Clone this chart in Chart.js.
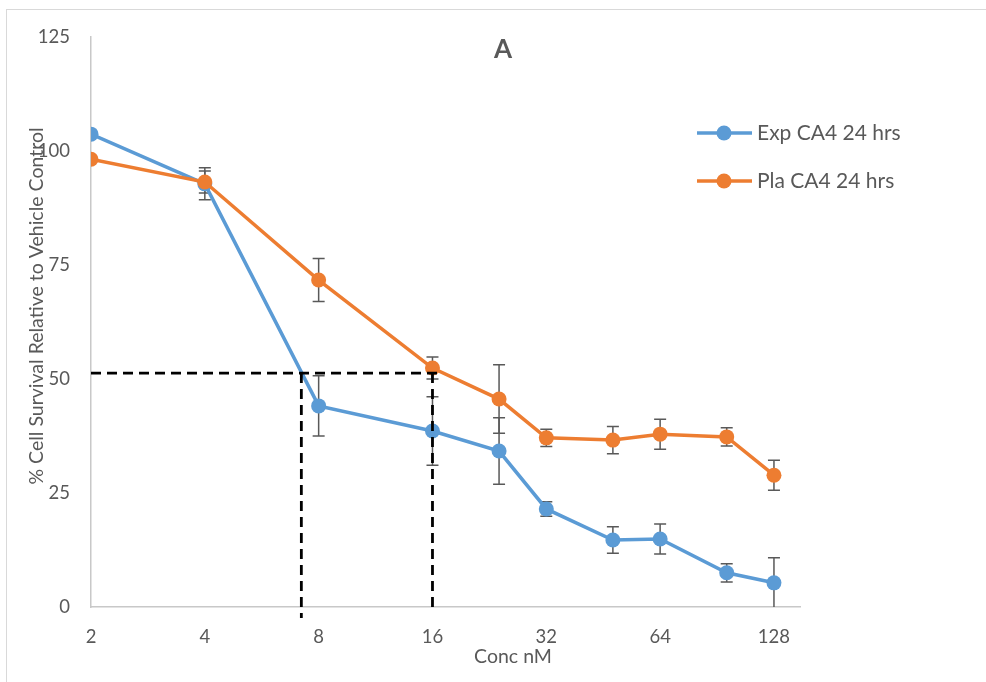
<!DOCTYPE html>
<html>
<head>
<meta charset="utf-8">
<script src="https://cdn.jsdelivr.net/npm/chart.js@4.4.1/dist/chart.umd.min.js"></script>
<style>
    html, body { margin: 0; padding: 0; background: #ffffff; }
    #wrap { position: relative; width: 986px; height: 682px; overflow: hidden; }
    #frame { position: absolute; left: 6px; top: 9px; width: 1000px; height: 700px;
             border-top: 1.5px solid #d9d9d9; border-left: 1.5px solid #d9d9d9; }
    #chart { position: absolute; left: 0; top: 0; }
</style>
</head>
<body>
<div id="wrap">
    <div id="frame"></div>
    <canvas id="chart" width="986" height="682"></canvas>
</div>
<script>
const concentrations = [2, 4, 8, 16, 24, 32, 48, 64, 96, 128];
const expValues = [103.7, 92.8, 44.1, 38.6, 34.2, 21.5, 14.7, 14.9, 7.5, 5.3];
const plaValues = [98.2, 93.2, 71.7, 52.4, 45.6, 37.1, 36.6, 37.9, 37.3, 28.9];
const expErrors = [0, 3.5, 6.6, 7.5, 7.3, 1.6, 2.9, 3.3, 2.0, 5.5];
const plaErrors = [0, 2.4, 4.7, 2.4, 7.5, 1.9, 3.0, 3.3, 2.0, 3.3];
const xTicks = [2, 4, 8, 16, 32, 64, 128];
const seriesNames = ['Exp CA4 24 hrs', 'Pla CA4 24 hrs'];

// 50% survival guide lines
const halfLevel = 51.3;
const halfExpConc = 7.2;
const halfPlaConc = 16;
const guideEndConc = 17;
const guideBottoms = [-2.4, -0.7];

const textColor = '#595959';
const axisColor = '#c8c8c8';
const fontFamily = 'Lato, "Open Sans", sans-serif';

const errorBarPlugin = {
    id: 'errorBars',
    beforeDatasetsDraw(chart) {
        const ctx = chart.ctx;
        const x = chart.scales.x, y = chart.scales.y;
        const area = chart.chartArea;
        ctx.save();
        ctx.beginPath();
        ctx.rect(area.left, area.top, area.right - area.left, area.bottom - area.top);
        ctx.clip();
        ctx.strokeStyle = '#595959';
        ctx.lineWidth = 1.5;
        chart.data.datasets.forEach(ds => {
            if (!ds.errors) return;
            ds.data.forEach((p, i) => {
                const e = ds.errors[i];
                if (!e) return;
                const px = x.getPixelForValue(p.x);
                const top = y.getPixelForValue(p.y + e);
                const bot = y.getPixelForValue(p.y - e);
                ctx.beginPath();
                ctx.moveTo(px, top); ctx.lineTo(px, bot);
                ctx.moveTo(px - 6, top); ctx.lineTo(px + 6, top);
                ctx.moveTo(px - 6, bot); ctx.lineTo(px + 6, bot);
                ctx.stroke();
            });
        });
        ctx.restore();
    }
};

const labelsPlugin = {
    id: 'labels',
    afterDraw(chart) {
        const ctx = chart.ctx;
        ctx.save();
        ctx.fillStyle = textColor;
        ctx.textAlign = 'center';
        ctx.textBaseline = 'middle';

        ctx.font = 'bold 26px ' + fontFamily;
        ctx.fillText('A', 503, 50);

        ctx.font = '19.5px ' + fontFamily;
        ctx.fillText('Conc nM', 513, 657);

        ctx.save();
        ctx.translate(37, 306);
        ctx.rotate(-Math.PI / 2);
        ctx.fillText('% Cell Survival Relative to Vehicle Control', 0, 0);
        ctx.restore();

        // legend
        ctx.textAlign = 'left';
        ctx.font = '21px ' + fontFamily;
        [0, 1].forEach(i => {
            const ds = chart.data.datasets[i];
            const ly = 133 + i * 48;
            ctx.strokeStyle = ds.borderColor;
            ctx.lineWidth = 3.5;
            ctx.beginPath();
            ctx.moveTo(697, ly); ctx.lineTo(752, ly);
            ctx.stroke();
            ctx.fillStyle = ds.backgroundColor;
            ctx.beginPath();
            ctx.arc(724, ly, 7.5, 0, Math.PI * 2);
            ctx.fill();
            ctx.fillStyle = textColor;
            ctx.fillText(seriesNames[i], 757, ly);
        });
        ctx.restore();
    }
};

function guide(points) {
    return {
        data: points,
        borderColor: '#000000',
        borderWidth: 2.8,
        borderDash: [10, 6],
        pointRadius: 0,
        clip: false,
        order: 0
    };
}

new Chart(document.getElementById('chart'), {
    type: 'line',
    data: {
        datasets: [
            {
                label: seriesNames[0],
                data: concentrations.map((c, i) => ({ x: c, y: expValues[i] })),
                errors: expErrors,
                borderColor: '#5B9BD5',
                backgroundColor: '#5B9BD5',
                borderWidth: 3.5,
                pointRadius: 7.5,
                pointHoverRadius: 7.5,
                pointBorderWidth: 0,
                tension: 0,
                order: 2
            },
            {
                label: seriesNames[1],
                data: concentrations.map((c, i) => ({ x: c, y: plaValues[i] })),
                errors: plaErrors,
                borderColor: '#ED7D31',
                backgroundColor: '#ED7D31',
                borderWidth: 3.5,
                pointRadius: 7.5,
                pointHoverRadius: 7.5,
                pointBorderWidth: 0,
                tension: 0,
                order: 1
            },
            guide([{ x: concentrations[0], y: halfLevel }, { x: guideEndConc, y: halfLevel }]),
            guide([{ x: halfExpConc, y: halfLevel }, { x: halfExpConc, y: guideBottoms[0] }]),
            guide([{ x: halfPlaConc, y: halfLevel }, { x: halfPlaConc, y: guideBottoms[1] }])
        ]
    },
    options: {
        responsive: false,
        animation: false,
        layout: {
            padding: { top: 37, right: 186, left: 0, bottom: 0 }
        },
        plugins: {
            legend: { display: false },
            title: { display: false },
            tooltip: { enabled: false }
        },
        scales: {
            x: {
                type: 'logarithmic',
                min: 2,
                max: 150,
                afterBuildTicks: s => { s.ticks = xTicks.map(v => ({ value: v })); },
                afterFit: s => { s.height = 75; },
                grid: { display: false, drawTicks: false },
                border: { color: axisColor, width: 1.5 },
                ticks: {
                    callback: v => String(v),
                    autoSkip: false,
                    maxRotation: 0,
                    padding: 19,
                    color: textColor,
                    font: { family: fontFamily, size: 18.5 }
                }
            },
            y: {
                min: 0,
                max: 125,
                afterFit: s => { s.width = 91; },
                grid: { display: false, drawTicks: false },
                border: { color: axisColor, width: 1.5 },
                ticks: {
                    stepSize: 25,
                    padding: 21,
                    color: textColor,
                    font: { family: fontFamily, size: 18.5 }
                }
            }
        }
    },
    plugins: [errorBarPlugin, labelsPlugin]
});
</script>
</body>
</html>
